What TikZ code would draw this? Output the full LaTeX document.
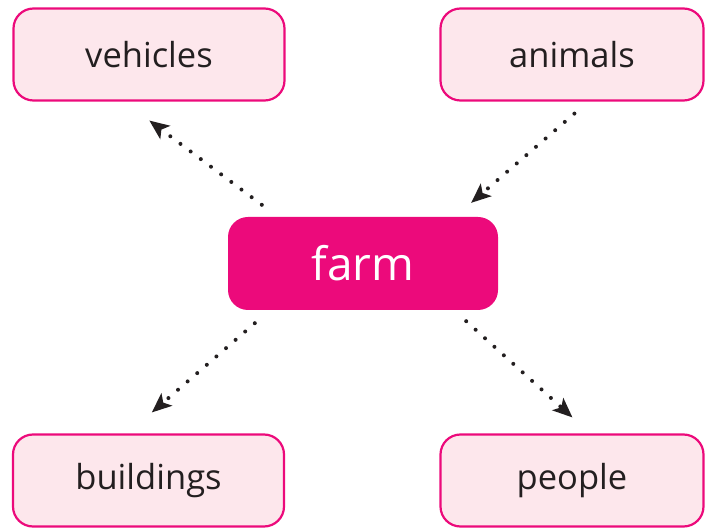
\documentclass[tikz,border=0pt]{standalone}
\usepackage{fontspec}
\setmainfont{Open Sans}
\usetikzlibrary{arrows.meta,calc}
\definecolor{mag}{HTML}{EC0A7B}
\definecolor{palepink}{HTML}{FDE7EC}
\definecolor{ink}{HTML}{231F20}
\begin{document}
\begin{tikzpicture}[x=1pt,y=-1pt,
  leaf/.style={draw=mag, fill=palepink, line width=2.2pt, rounded corners=20pt,
    minimum width=271pt, minimum height=92pt, inner sep=0pt, text=ink,
    font=\fontsize{34.5}{38}\selectfont},
  hub/.style={fill=mag, rounded corners=20pt, minimum width=270pt, minimum height=93pt,
    inner sep=0pt, text=white, font=\fontsize{46}{50}\selectfont},
  arr/.style={draw=ink, line width=4pt, line cap=round, dash pattern=on 0pt off 12.7pt,
    -{Stealth[length=20pt,width=17pt,inset=5pt,line width=0pt]}}
]
\useasboundingbox (0,0) rectangle (705,529);
\node[leaf] (vehicles) at (149,54.5) {vehicles};
\node[leaf, minimum width=263pt] (animals) at (572,54.5) {animals};
\node[hub] (farm) at (363,263.5) {farm};
\node[leaf] (buildings) at (148.5,480.5) {buildings};
\node[leaf, minimum width=263pt] (people) at (572,480.5) {people};
\draw[arr] ($(farm.north west)+(34,-12)$) -- ($(vehicles.south west)+(137,19)$);
\draw[arr] ($(animals.south west)+(135,12)$) -- ($(farm.north east)+(-27,-14)$);
\draw[arr] ($(farm.south west)+(27,13)$) -- ($(buildings.north west)+(140,-21)$);
\draw[arr] ($(farm.south east)+(-32,11)$) -- ($(people.north west)+(133,-16)$);
\end{tikzpicture}
\end{document}
